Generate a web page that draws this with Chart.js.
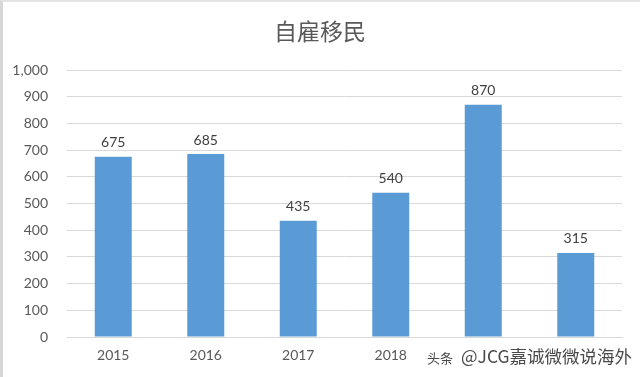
<!DOCTYPE html>
<html>
<head>
<meta charset="utf-8">
<script src="https://cdn.jsdelivr.net/npm/chart.js@4"></script>
<style>
    html, body {
        margin: 0;
        padding: 0;
        background: #ffffff;
    }
    #wrap {
        position: relative;
        width: 640px;
        height: 377px;
    }
    #frame {
        position: absolute;
        left: 0;
        top: 0;
        width: 637px;
        height: 375px;
        border-top: 2px solid #e3e3e3;
        border-left: 3px solid #d6d6d6;
        pointer-events: none;
    }
    #mark {
        position: absolute;
        left: 425px;
        top: 344px;
        height: 25px;
        padding: 0 2px;
        background: #ffffff;
        color: #4a4a4a;
        font-family: "Noto Sans CJK SC", sans-serif;
        line-height: 24px;
        white-space: nowrap;
    }
    #mark .small {
        font-size: 13px;
    }
    #mark .big {
        font-size: 17.5px;
        margin-left: 8px;
    }
</style>
</head>
<body>
<div id="wrap">
    <canvas id="chart" width="640" height="377"></canvas>
    <div id="frame"></div>
    <div id="mark"><span class="small">头条</span><span class="big">@JCG嘉诚微微说海外</span></div>
</div>
<script>
const years = ['2015', '2016', '2017', '2018', '2019', '2020'];
const applicants = [675, 685, 435, 540, 870, 315];
const yTicks = [0, 100, 200, 300, 400, 500, 600, 700, 800, 900, 1000];
const chartTitle = '自雇移民';

const textColor = '#595959';
const barColor = '#5b9bd5';

// title drawn by hand so it centres on the whole canvas, not the padded box
const centredTitle = {
    id: 'centredTitle',
    afterDraw(chart) {
        const { ctx } = chart;

        ctx.save();
        ctx.fillStyle = textColor;
        ctx.font = '23px "Noto Sans CJK SC"';
        ctx.textAlign = 'center';
        ctx.textBaseline = 'middle';
        ctx.fillText(chartTitle, chart.width / 2, 31);
        ctx.restore();
    },
};

const valueLabels = {
    id: 'valueLabels',
    afterDatasetsDraw(chart) {
        const { ctx } = chart;
        const meta = chart.getDatasetMeta(0);

        ctx.save();
        ctx.fillStyle = '#404040';
        ctx.font = '14px Lato, sans-serif';
        ctx.textAlign = 'center';
        ctx.textBaseline = 'bottom';
        meta.data.forEach((bar, i) => {
            ctx.fillText(String(applicants[i]), bar.x, bar.y - 7);
        });
        ctx.restore();
    },
};

new Chart(document.getElementById('chart'), {
    type: 'bar',
    data: {
        labels: years,
        datasets: [
            {
                data: applicants,
                backgroundColor: barColor,
                categoryPercentage: 1,
                barPercentage: 0.4,
            },
        ],
    },
    options: {
        responsive: false,
        animation: false,
        layout: {
            padding: { left: 0, right: 18, top: 70, bottom: 0 },
        },
        plugins: {
            legend: { display: false },
            tooltip: { enabled: false },
            title: { display: false },
        },
        scales: {
            x: {
                afterFit(scale) {
                    scale.height = 40;
                },
                grid: { display: false, drawTicks: false },
                border: { color: '#d9d9d9' },
                ticks: {
                    color: textColor,
                    padding: 10,
                    font: { family: 'Lato', size: 14 },
                },
            },
            y: {
                min: 0,
                max: 1000,
                afterBuildTicks(scale) {
                    scale.ticks = yTicks.map((v) => ({ value: v }));
                },
                afterFit(scale) {
                    scale.width = 67;
                },
                grid: { color: '#d9d9d9', drawTicks: false },
                border: { display: false },
                ticks: {
                    color: textColor,
                    padding: 19,
                    font: { family: 'Lato', size: 14 },
                    callback: (v) => v.toLocaleString('en-US'),
                },
            },
        },
    },
    plugins: [valueLabels, centredTitle],
});
</script>
</body>
</html>
